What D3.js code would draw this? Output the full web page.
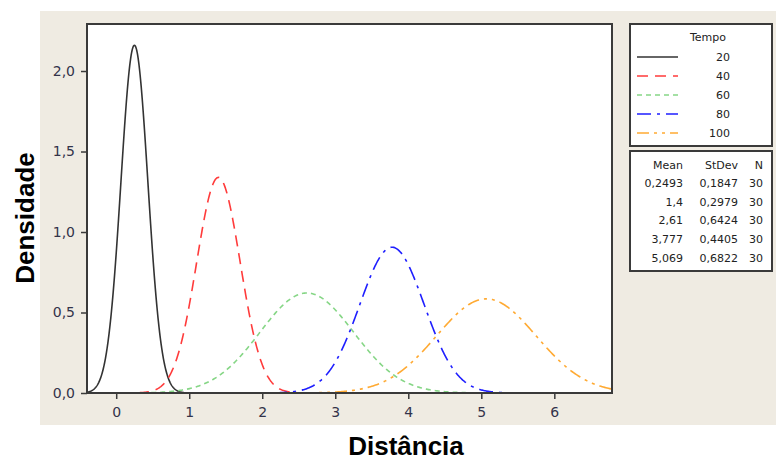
<!DOCTYPE html>
<html>
<head>
<meta charset="utf-8">
<script src="https://cdn.jsdelivr.net/npm/d3@7"></script>
<style>
  body { margin: 0; background: #ffffff; }
  text { font-family: Tahoma, "DejaVu Sans", sans-serif; }
</style>
</head>
<body>
<script>
// Series (Minitab normal fits)
const tempo  = [20, 40, 60, 80, 100];
const means  = [0.2493, 1.4, 2.61, 3.777, 5.069];
const stdevs = [0.1847, 0.2979, 0.6424, 0.4405, 0.6822];
const counts = [30, 30, 30, 30, 30];
const meanLabels  = ["0,2493", "1,4", "2,61", "3,777", "5,069"];
const stdevLabels = ["0,1847", "0,2979", "0,6424", "0,4405", "0,6822"];

// Axis ticks
const xTicks = [0, 1, 2, 3, 4, 5, 6];
const yTicks = [0, 0.5, 1.0, 1.5, 2.0];

// Styles per series
const colours = ["#333333", "#ff3b3b", "#86d686", "#1f1fff", "#ffaa33"];
const dashes  = ["none", "11,7", "5,4", "14,6,3,6", "12,5,3,5,3,5"];

const W = 776, H = 461;
const plot = { left: 87, top: 24, right: 612, bottom: 393 };

const svg = d3.select("body").append("svg")
    .attr("width", W)
    .attr("height", H);

// Beige panel
svg.append("rect")
    .attr("x", 40).attr("y", 11)
    .attr("width", W - 40).attr("height", 414)
    .attr("fill", "#efebe2");

// Scales
const x = d3.scaleLinear().domain([-0.40, 6.79]).range([plot.left, plot.right]);
const y = d3.scaleLinear().domain([0, 2.292]).range([plot.bottom, plot.top]);

const loc = d3.formatLocale({ decimal: ",", thousands: ".", grouping: [3], currency: ["", ""] });

// Plot background
svg.append("rect")
    .attr("x", plot.left).attr("y", plot.top)
    .attr("width", plot.right - plot.left).attr("height", plot.bottom - plot.top)
    .attr("fill", "#ffffff");

svg.append("defs").append("clipPath").attr("id", "clip")
  .append("rect")
    .attr("x", plot.left).attr("y", plot.top)
    .attr("width", plot.right - plot.left).attr("height", plot.bottom - plot.top);

// Normal density for each fit
function density(m, s, v) {
    return Math.exp(-0.5 * ((v - m) / s) ** 2) / (s * Math.sqrt(2 * Math.PI));
}

const line = d3.line().x(d => x(d[0])).y(d => y(d[1]));

const curves = svg.append("g").attr("clip-path", "url(#clip)");
means.forEach((m, i) => {
    const s = stdevs[i];
    const pts = d3.range(m - 3.7 * s, m + 3.7 * s, s / 40).map(v => [v, density(m, s, v)]);
    curves.append("path")
        .datum(pts)
        .attr("fill", "none")
        .attr("stroke", colours[i])
        .attr("stroke-width", 1.6)
        .attr("stroke-dasharray", dashes[i])
        .attr("d", line);
});

// Frame
svg.append("rect")
    .attr("x", plot.left).attr("y", plot.top)
    .attr("width", plot.right - plot.left).attr("height", plot.bottom - plot.top)
    .attr("fill", "none")
    .attr("stroke", "#3a3a3a")
    .attr("stroke-width", 2);

// Axes
const xAxis = svg.append("g")
    .attr("transform", `translate(0, ${plot.bottom})`)
    .call(d3.axisBottom(x).tickValues(xTicks).tickFormat(d3.format("d")).tickSize(6).tickPadding(8));
const yAxis = svg.append("g")
    .attr("transform", `translate(${plot.left}, 0)`)
    .call(d3.axisLeft(y).tickValues(yTicks).tickFormat(loc.format(".1f")).tickSize(6).tickPadding(6));

[xAxis, yAxis].forEach(a => {
    a.select(".domain").remove();
    a.selectAll(".tick line").attr("stroke", "#3a3a3a").attr("stroke-width", 1.5);
    a.selectAll(".tick text")
        .attr("fill", "#33334a")
        .style("font-size", "14px")
        .style("font-family", "Tahoma, 'DejaVu Sans', sans-serif");
});

// Axis titles
svg.append("text")
    .attr("x", 406).attr("y", 455)
    .attr("text-anchor", "middle")
    .style("font-family", "'Liberation Sans', Arial, sans-serif")
    .style("font-weight", "bold")
    .style("font-size", "26px")
    .text("Distância");

svg.append("text")
    .attr("transform", "translate(34, 218) rotate(-90)")
    .attr("text-anchor", "middle")
    .style("font-family", "'Liberation Sans', Arial, sans-serif")
    .style("font-weight", "bold")
    .style("font-size", "26px")
    .text("Densidade");

// Legend box
const lg = svg.append("g");
lg.append("rect")
    .attr("x", 630).attr("y", 24).attr("width", 142).attr("height", 122)
    .attr("fill", "#ffffff").attr("stroke", "#3a3a3a").attr("stroke-width", 2);
lg.append("text")
    .attr("x", 708).attr("y", 41)
    .attr("text-anchor", "middle")
    .style("font-size", "11px").attr("fill", "#222")
    .text("Tempo");
tempo.forEach((t, i) => {
    const yy = 57 + i * 19;
    lg.append("line")
        .attr("x1", 637).attr("x2", 678)
        .attr("y1", yy).attr("y2", yy)
        .attr("stroke", colours[i])
        .attr("stroke-width", 1.6)
        .attr("stroke-dasharray", dashes[i]);
    lg.append("text")
        .attr("x", 730).attr("y", yy + 4)
        .attr("text-anchor", "end")
        .style("font-size", "11px").attr("fill", "#222")
        .text(t);
});

// Stats table box
const tb = svg.append("g");
tb.append("rect")
    .attr("x", 630).attr("y", 151).attr("width", 142).attr("height", 120)
    .attr("fill", "#ffffff").attr("stroke", "#3a3a3a").attr("stroke-width", 2);
const cols = [683, 738, 763];
["Mean", "StDev", "N"].forEach((h, j) => {
    tb.append("text")
        .attr("x", cols[j]).attr("y", 169)
        .attr("text-anchor", "end")
        .style("font-size", "11px").attr("fill", "#222")
        .text(h);
});
means.forEach((m, i) => {
    const yy = 187 + i * 18.7;
    [meanLabels[i], stdevLabels[i], counts[i]].forEach((v, j) => {
        tb.append("text")
            .attr("x", cols[j]).attr("y", yy)
            .attr("text-anchor", "end")
            .style("font-size", "11px").attr("fill", "#222")
            .text(v);
    });
});
</script>
</body>
</html>
